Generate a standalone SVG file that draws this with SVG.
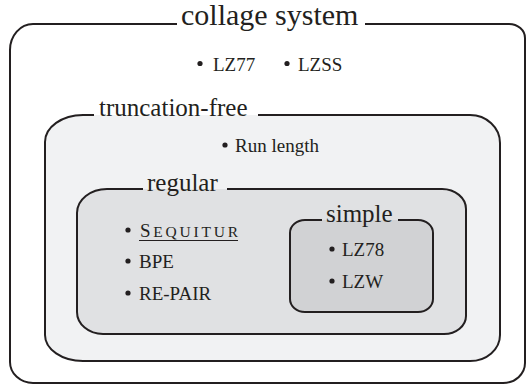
<svg xmlns="http://www.w3.org/2000/svg" width="526" height="385" viewBox="0 0 526 385">
<defs>
<circle id="dot" r="2.6" fill="#231f20"/>
</defs>
<rect width="526" height="385" fill="#ffffff"/>
<g id="collage-system">
<path d="M33 24 H509 A16 14 0 0 1 525 38 V363 A22 20 0 0 1 503 383 H33 A23 21 0 0 1 10 362 V50 A23 26 0 0 1 33 24 Z" fill="#ffffff"/>
<path d="M365 24 H509 A16 14 0 0 1 525 38 V363 A22 20 0 0 1 503 383 H33 A23 21 0 0 1 10 362 V50 A23 26 0 0 1 33 24 H177" fill="none" stroke="#231f20" stroke-width="2"/>
<text x="181" y="25" font-size="30" fill="#231f20" font-family="Liberation Serif">collage system</text>
<use href="#dot" x="200" y="63.5"/>
<text x="213" y="70.5" font-size="19" fill="#231f20" font-family="Liberation Serif">LZ77</text>
<use href="#dot" x="287" y="63.5"/>
<text x="298" y="70.5" font-size="19" fill="#231f20" font-family="Liberation Serif">LZSS</text>
</g>
<g id="truncation-free">
<path d="M83 115 H470 A30 28 0 0 1 500 143 V335 A30 26 0 0 1 470 361 H83 A38 26 0 0 1 45 335 V142 A38 27 0 0 1 83 115 Z" fill="#f1f2f3"/>
<path d="M258 115 H470 A30 28 0 0 1 500 143 V335 A30 26 0 0 1 470 361 H83 A38 26 0 0 1 45 335 V142 A38 27 0 0 1 83 115 H94" fill="none" stroke="#231f20" stroke-width="2"/>
<text x="99" y="116" font-size="25" fill="#231f20" font-family="Liberation Serif">truncation-free</text>
<use href="#dot" x="225" y="145"/>
<text x="235" y="152" font-size="19" fill="#231f20" font-family="Liberation Serif">Run length</text>
</g>
<g id="regular">
<path d="M107 189 H442 A24 20 0 0 1 466 209 V316 A22 18 0 0 1 444 334 H103 A26 22 0 0 1 77 312 V213 A30 24 0 0 1 107 189 Z" fill="#e0e1e3"/>
<path d="M227 189 H442 A24 20 0 0 1 466 209 V316 A22 18 0 0 1 444 334 H103 A26 22 0 0 1 77 312 V213 A30 24 0 0 1 107 189 H143" fill="none" stroke="#231f20" stroke-width="2"/>
<text x="147" y="191" font-size="25" fill="#231f20" font-family="Liberation Serif">regular</text>
<use href="#dot" x="128" y="230"/>
<text x="140" y="237" fill="#231f20" font-family="Liberation Serif" textLength="98" lengthAdjust="spacing"><tspan font-size="19">S</tspan><tspan font-size="15.5">EQUITUR</tspan></text>
<line x1="139" y1="240.5" x2="238" y2="240.5" stroke="#231f20" stroke-width="1"/>
<use href="#dot" x="128" y="261"/>
<text x="139" y="268" font-size="19" fill="#231f20" font-family="Liberation Serif">BPE</text>
<use href="#dot" x="128" y="293"/>
<text x="139" y="300" font-size="19" fill="#231f20" font-family="Liberation Serif">RE-PAIR</text>
</g>
<g id="simple">
<path d="M305 220 H418 A15 13 0 0 1 433 233 V299 A15 13 0 0 1 418 312 H305 A15 13 0 0 1 290 299 V233 A15 13 0 0 1 305 220 Z" fill="#d1d2d4"/>
<path d="M398 220 H418 A15 13 0 0 1 433 233 V299 A15 13 0 0 1 418 312 H305 A15 13 0 0 1 290 299 V233 A15 13 0 0 1 305 220 H322" fill="none" stroke="#231f20" stroke-width="2"/>
<text x="326" y="222" font-size="25" fill="#231f20" font-family="Liberation Serif">simple</text>
<use href="#dot" x="332" y="249"/>
<text x="342" y="256" font-size="19" fill="#231f20" font-family="Liberation Serif">LZ78</text>
<use href="#dot" x="332" y="281"/>
<text x="342" y="288" font-size="19" fill="#231f20" font-family="Liberation Serif">LZW</text>
</g>
<g id="connectors"></g>
</svg>
